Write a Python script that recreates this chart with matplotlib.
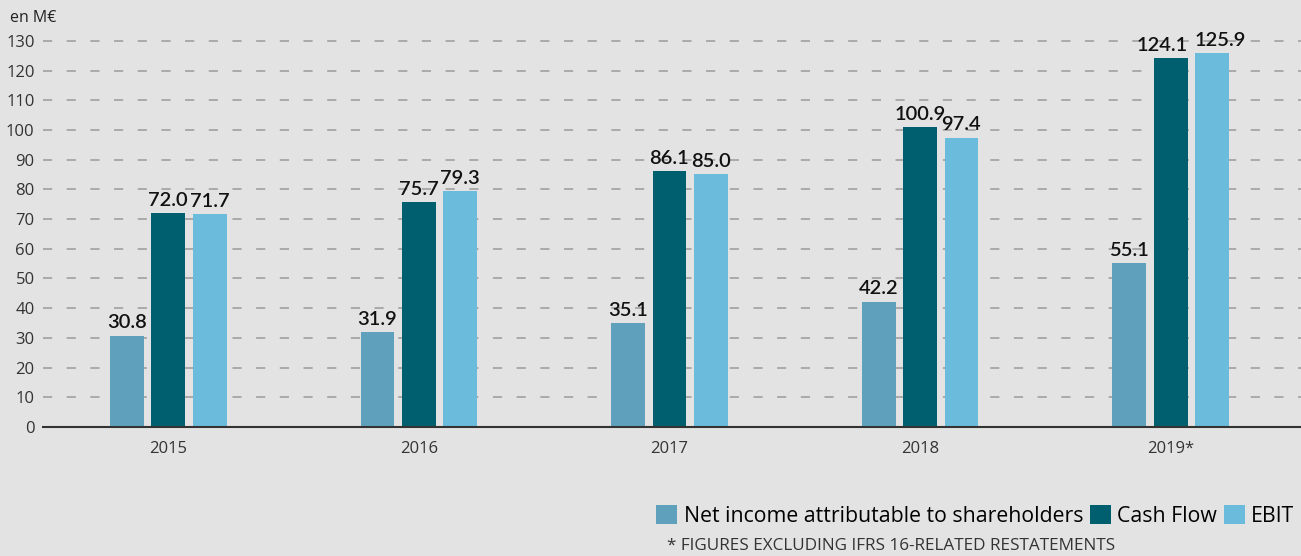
import numpy as np
import matplotlib.pyplot as plt
from matplotlib.patches import Patch

years = ['2015', '2016', '2017', '2018', '2019*']
net_income = [30.8, 31.9, 35.1, 42.2, 55.1]
cash_flow = [72.0, 75.7, 86.1, 100.9, 124.1]
ebit = [71.7, 79.3, 85.0, 97.4, 125.9]
series_names = ['Net income attributable to shareholders', 'Cash Flow', 'EBIT']
colors = ['#5fa1bd', '#005f6f', '#6bbbdd']

bg = '#e3e3e3'
plt.rcParams['font.family'] = ['Open Sans', 'DejaVu Sans']

# labels that sit too close in the last group get pushed apart (points)
nudge = {(4, 1): -6, (4, 2): 6}


def main():
    fig = plt.figure(figsize=(13.01, 5.56), dpi=100)
    fig.patch.set_facecolor(bg)
    ax = fig.add_axes([0.033, 0.232, 0.967, 0.732])
    ax.set_facecolor(bg)

    x = np.arange(len(years))
    width = 0.135
    step = 0.165
    for i, (vals, col) in enumerate(zip([net_income, cash_flow, ebit], colors)):
        xs = x + (i - 1) * step
        ax.bar(xs, vals, width=width, color=col, zorder=3)
        for j, (xi, v) in enumerate(zip(xs, vals)):
            dx = nudge.get((j, i), 0)
            ax.annotate('%.1f' % v, (xi, v), xytext=(dx, 3), textcoords='offset points',
                        ha='center', va='bottom', fontsize=14.5, fontweight='semibold',
                        family=['Lato', 'DejaVu Sans'], color='#111111', zorder=4)

    ax.set_xlim(-0.5, 4.52)
    ax.set_ylim(0, 137)
    ax.set_yticks(range(0, 131, 10))
    ax.set_xticks(x)
    ax.set_xticklabels(years)
    ax.tick_params(axis='both', length=0, labelsize=12, colors='#333333')
    ax.tick_params(axis='x', pad=10)
    ax.tick_params(axis='y', pad=6)
    ax.yaxis.grid(True, linestyle=(0, (6, 9.5)), color='#9a9a9a', linewidth=1.1, zorder=0)
    for s in ['top', 'right', 'left']:
        ax.spines[s].set_visible(False)
    ax.spines['bottom'].set_color('#333333')
    ax.spines['bottom'].set_linewidth(1.5)
    ax.spines['bottom'].set_zorder(5)

    fig.text(10 / 1301, 1 - 18 / 556, 'en M€', fontsize=11.5, color='#222222', va='center')

    handles = [Patch(facecolor=c) for c in colors]
    fig.legend(handles, series_names, loc='center right', bbox_to_anchor=(0.995, 1 - 516 / 556),
               ncol=3, frameon=False, fontsize=15.3, handlelength=1.0, handleheight=1.0,
               handletextpad=0.3, columnspacing=0.3, borderpad=0, borderaxespad=0)
    fig.text(1115 / 1301, 1 - 546 / 556, '* FIGURES EXCLUDING IFRS 16-RELATED RESTATEMENTS',
             fontsize=12.3, color='#333333', ha='right', va='center')

    plt.savefig('out.png', dpi=100, facecolor=bg)


if __name__ == "__main__":
    main()
